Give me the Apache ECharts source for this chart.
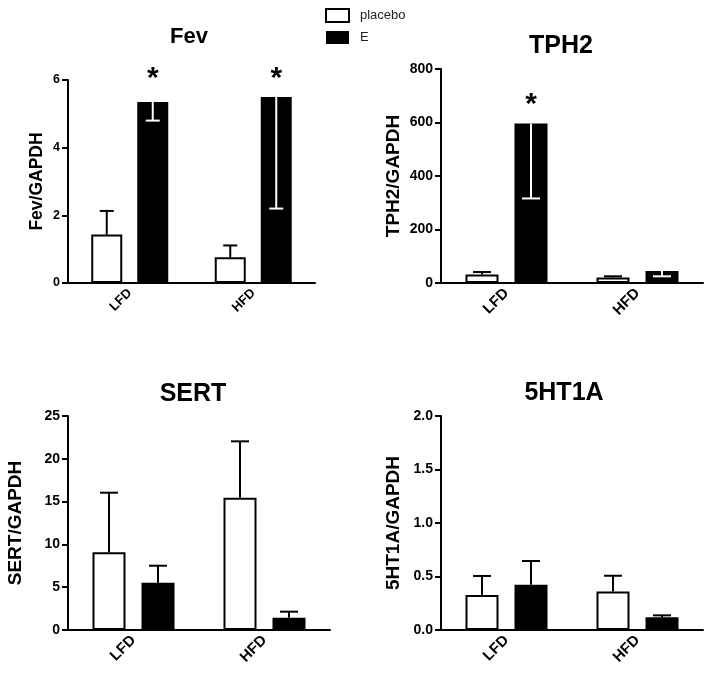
<!DOCTYPE html>
<html>
<head>
<meta charset="utf-8">
<script src="https://cdn.jsdelivr.net/npm/echarts@6/dist/echarts.min.js"></script>
<style>
html,body{margin:0;padding:0;background:#fff;}
#chart{width:711px;height:680px;}
</style>
</head>
<body>
<div id="chart"></div>
<script>
// ---- data ----
const categories = ['LFD', 'HFD'];
const seriesNames = ['placebo', 'E'];

const fevPlacebo = [1.43, 0.76];
const fevPlaceboErr = [2.13, 1.11];
const fevE = [5.35, 5.50];
const fevEErr = [4.80, 2.20];
const fevStarE = [6.18, 6.18];

const tph2Placebo = [32, 21];
const tph2PlaceboErr = [41, 25];
const tph2E = [596, 45];
const tph2EErr = [316, 25];
const tph2StarE = [685, null];

const sertPlacebo = [9.08, 15.46];
const sertPlaceboErr = [16.04, 22.04];
const sertE = [5.53, 1.44];
const sertEErr = [7.51, 2.14];
const sertStarE = [null, null];

const ht1aPlacebo = [0.327, 0.36];
const ht1aPlaceboErr = [0.505, 0.507];
const ht1aE = [0.423, 0.118];
const ht1aEErr = [0.645, 0.137];
const ht1aStarE = [null, null];

const titles = ['Fev', 'TPH2', 'SERT', '5HT1A'];
const yNames = ['Fev/GAPDH', 'TPH2/GAPDH', 'SERT/GAPDH', '5HT1A/GAPDH'];
const yMax = [6, 800, 25, 2];
const yInterval = [2, 200, 5, 0.5];

// ---- layout / style ----
const FONT = '"Liberation Sans", Arial, Helvetica, sans-serif';
const panels = [
  {left: 68, top: 80, width: 247, height: 203, barW: 31, gapPx: 15, cap: 7, tickFs: 12.5, nameFs: 17.5, catFs: 13, nameGap: 22, titleFs: 22, tx: 184, ty: 21,
   p: fevPlacebo, pe: fevPlaceboErr, e: fevE, ee: fevEErr, star: fevStarE, fmt: v => String(v)},
  {left: 441, top: 69, width: 262, height: 214, barW: 33, gapPx: 16, cap: 9, tickFs: 14, nameFs: 19, catFs: 15, nameGap: 38, titleFs: 25, tx: 556, ty: 29,
   p: tph2Placebo, pe: tph2PlaceboErr, e: tph2E, ee: tph2EErr, star: tph2StarE, fmt: v => String(v)},
  {left: 68, top: 416, width: 262, height: 214, barW: 33, gapPx: 16, cap: 9, tickFs: 14, nameFs: 19, catFs: 15, nameGap: 43, titleFs: 25, tx: 188, ty: 377,
   p: sertPlacebo, pe: sertPlaceboErr, e: sertE, ee: sertEErr, star: sertStarE, fmt: v => String(v)},
  {left: 441, top: 416, width: 262, height: 214, barW: 33, gapPx: 16, cap: 9, tickFs: 14, nameFs: 19, catFs: 15, nameGap: 38, titleFs: 25, tx: 559, ty: 376,
   p: ht1aPlacebo, pe: ht1aPlaceboErr, e: ht1aE, ee: ht1aEErr, star: ht1aStarE, fmt: v => v.toFixed(1)}
];

function errRender(offset, cap, dark) {
  return function (params, api) {
    const top = api.coord([api.value(0), api.value(1)]);
    const end = api.coord([api.value(0), api.value(2)]);
    const cx = top[0] + offset;
    const down = api.value(2) < api.value(1);
    const color = (dark && down) ? '#fff' : '#000';
    const st = {stroke: color, lineWidth: 2};
    return {type: 'group', children: [
      {type: 'line', shape: {x1: cx, y1: top[1], x2: cx, y2: end[1]}, style: st},
      {type: 'line', shape: {x1: cx - cap, y1: end[1], x2: cx + cap, y2: end[1]}, style: st}
    ]};
  };
}
function starRender(offset) {
  return function (params, api) {
    const c = api.coord([api.value(0), api.value(1)]);
    return {type: 'text', x: c[0] + offset, y: c[1] + 5,
      style: {text: '*', font: 'bold 30px ' + FONT, align: 'center', verticalAlign: 'middle', fill: '#000'}};
  };
}

const grid = [], xAxis = [], yAxis = [], series = [], title = [];
panels.forEach((P, i) => {
  grid.push({left: P.left, top: P.top, width: P.width, height: P.height});
  title.push({text: titles[i], left: P.tx, top: P.ty, textAlign: 'center',
    textStyle: {fontFamily: FONT, fontWeight: 'bold', fontSize: P.titleFs, color: '#000'}});
  xAxis.push({type: 'category', gridIndex: i, data: categories,
    axisLine: {lineStyle: {color: '#000', width: 2}},
    axisTick: {alignWithLabel: true, length: 6, lineStyle: {color: '#000', width: 2}},
    axisLabel: {rotate: 45, margin: 8, fontFamily: FONT, fontWeight: 'bold', fontSize: P.catFs, color: '#000'},
    splitLine: {show: false}});
  yAxis.push({type: 'value', gridIndex: i, min: 0, max: yMax[i], interval: yInterval[i],
    name: yNames[i], nameLocation: 'middle', nameGap: P.nameGap,
    nameTextStyle: {fontFamily: FONT, fontWeight: 'bold', fontSize: P.nameFs, color: '#000'},
    axisLine: {show: true, lineStyle: {color: '#000', width: 2}},
    axisTick: {show: true, length: 6, lineStyle: {color: '#000', width: 2}},
    axisLabel: {margin: 8, fontFamily: FONT, fontWeight: 'bold', fontSize: P.tickFs, color: '#000', formatter: P.fmt},
    splitLine: {show: false}});
  const gapPct = (P.gapPx / P.barW * 100).toFixed(1) + '%';
  const off = (P.barW + P.gapPx) / 2;
  series.push({type: 'bar', name: seriesNames[0], xAxisIndex: i, yAxisIndex: i, data: P.p,
    barWidth: P.barW, barGap: gapPct, itemStyle: {color: '#fff', borderColor: '#000', borderWidth: 2}, z: 2});
  series.push({type: 'bar', name: seriesNames[1], xAxisIndex: i, yAxisIndex: i, data: P.e,
    barWidth: P.barW, barGap: gapPct, itemStyle: {color: '#000', borderColor: '#000', borderWidth: 0}, z: 2});
  series.push({type: 'custom', xAxisIndex: i, yAxisIndex: i, z: 5, silent: true,
    renderItem: errRender(-off, P.cap, false), encode: {x: 0, y: 1},
    data: categories.map((c, k) => [c, P.p[k], P.pe[k]])});
  series.push({type: 'custom', xAxisIndex: i, yAxisIndex: i, z: 5, silent: true,
    renderItem: errRender(off, P.cap, true), encode: {x: 0, y: 1},
    data: categories.map((c, k) => [c, P.e[k], P.ee[k]])});
  const stars = categories.map((c, k) => [c, P.star[k]]).filter(d => d[1] != null);
  if (stars.length) {
    series.push({type: 'custom', xAxisIndex: i, yAxisIndex: i, z: 6, silent: true, clip: false,
      renderItem: starRender(off), encode: {x: 0, y: 1}, data: stars});
  }
});

const chart = echarts.init(document.getElementById('chart'), null, {renderer: 'canvas'});
chart.setOption({
  animation: false,
  backgroundColor: '#fff',
  title: title,
  legend: {orient: 'vertical', left: 325, top: 8, padding: 0, itemWidth: 23, itemHeight: 13, itemGap: 8,
    textStyle: {fontFamily: FONT, fontSize: 13, color: '#222', padding: [0, 0, 0, 6]},
    data: [
      {name: 'placebo', icon: 'rect', itemStyle: {color: '#fff', borderColor: '#000', borderWidth: 2}},
      {name: 'E', icon: 'rect', itemStyle: {color: '#000'}}
    ]},
  grid: grid, xAxis: xAxis, yAxis: yAxis, series: series
});
</script>
</body>
</html>
